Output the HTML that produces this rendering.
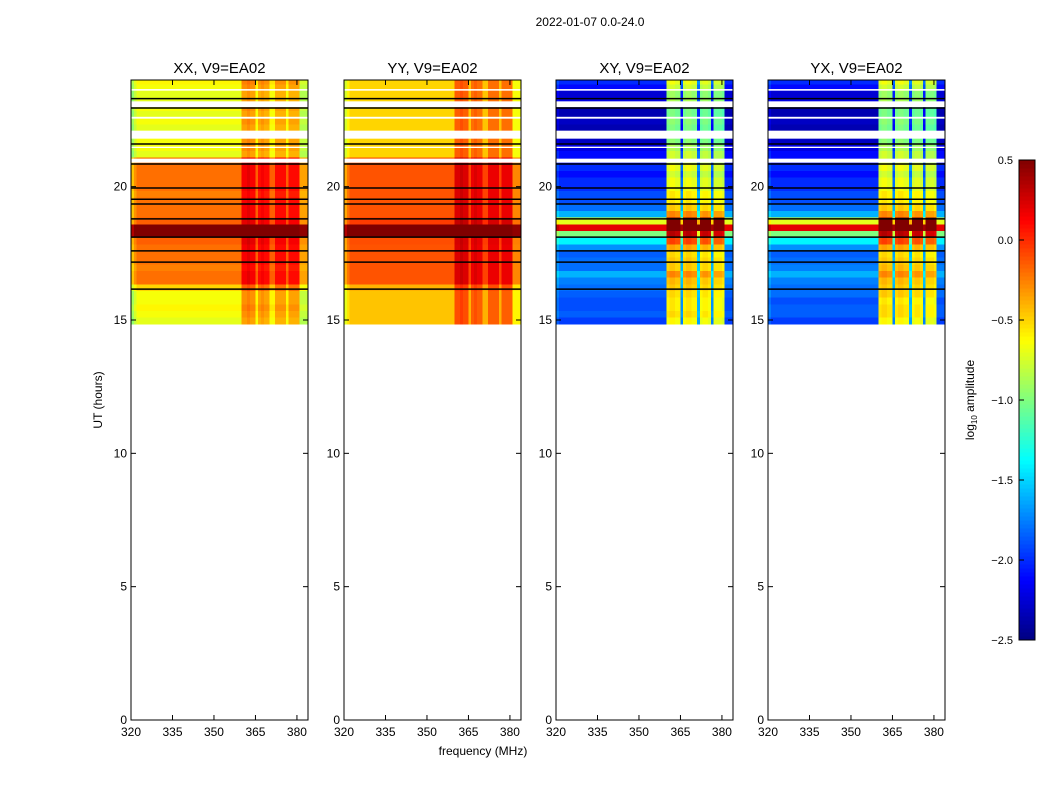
<!DOCTYPE html>
<html><head><meta charset="utf-8"><style>
body{margin:0;background:#fff;}
svg{display:block;font-family:"Liberation Sans","DejaVu Sans",sans-serif;}
</style></head><body>
<svg id="fig" width="1050" height="800" viewBox="0 0 1050 800">
<rect width="1050" height="800" fill="#fff"/>
<text x="590" y="26" font-size="12" text-anchor="middle">2022-01-07 0.0-24.0</text>
<text x="483" y="755" font-size="12" text-anchor="middle">frequency (MHz)</text>
<text transform="translate(102,400) rotate(-90)" font-size="12" text-anchor="middle">UT (hours)</text>
<text transform="translate(974,400) rotate(-90)" font-size="12" text-anchor="middle">log<tspan font-size="8" dy="3">10</tspan><tspan dy="-3"> amplitude</tspan></text>
<g id="panels"></g>
<g id="cbar"></g>
</svg>
<script>
// ---- data ----
const panelTitles = ["XX, V9=EA02","YY, V9=EA02","XY, V9=EA02","YX, V9=EA02"];
const rowStart = 14.85, rowStep = 0.25;
const xxRows = [-0.7,-0.65,-0.6,-0.65,-0.65,-0.5, -0.2,-0.2,-0.25,-0.2,-0.2,-0.2,-0.15, 0.6,0.6,-0.15, -0.2,-0.2,-0.2,-0.25,-0.2,-0.2,-0.2,-0.2,-0.2, -0.7,-0.65,-0.65,-0.7,-0.7,-0.65,-0.7,-0.65,-0.7,-0.7,-0.65,-0.6];
const yyRows = [-0.45,-0.45,-0.45,-0.45,-0.45,-0.4, -0.12,-0.12,-0.12,-0.12,-0.12,-0.12,-0.1, 0.6,0.6,-0.05, -0.12,-0.12,-0.12,-0.12,-0.12,-0.12,-0.12,-0.12,-0.12, -0.5,-0.5,-0.5,-0.5,-0.5,-0.5,-0.5,-0.5,-0.5,-0.5,-0.5,-0.5];
const xyRows = [-1.95,-1.85,-1.9,-1.9,-1.85,-1.8, -1.75,-1.6,-1.8,-1.8,-1.85,-1.7,-1.4, -1.0,0.2,-0.7, -1.6,-1.8,-1.9,-1.9,-2.0,-2.0,-2.1,-2.0,-2.1, -2.1,-2.2,-2.3,-2.35,-2.35,-2.3,-2.35,-2.35,-2.2,-2.25,-2.1,-2.0];
const yxRows = [-1.95,-1.85,-1.85,-1.9,-1.8,-1.8, -1.75,-1.6,-1.75,-1.8,-1.85,-1.7,-1.4, -1.0,0.2,-0.7, -1.6,-1.8,-1.9,-1.9,-2.0,-2.0,-2.1,-2.0,-2.1, -2.1,-2.2,-2.3,-2.35,-2.35,-2.3,-2.35,-2.35,-2.2,-2.25,-2.1,-2.0];
const chanStart = 320, chanStep = 1;
const parChan = [-0.25,-0.1,0,0,0,0,0,0,0,0, 0,0,0,0,0,0,0,0,0,0, 0,0,0,0,0,0,0,0,0,0, 0,0,0,0,0,0,0,0,0,0, 0.35,0.35,0.4,0.35,0.35,0.05,0.3,0.35,0.3,0.3, 0.05,0.05,0.3,0.3,0.3,0.3,0.05,0.3,0.3,0.3, 0.3,-0.15,-0.15,-0.15];
const crossChan = [0.1,0,0,0,0,0,0,0,0,0, 0,0,0,0,0,0,0,0,0,0, 0,0,0,0,0,0,0,0,0,0, 0,0,0,0,0,0,0,0,0,0, 1.3,1.35,1.35,1.3,1.3,0.2,1.3,1.35,1.35,1.3, 1.3,0.3,1.25,1.3,1.3,1.25,0.2,1.25,1.25,1.25, 1.2,0,0,0];
const gaps = [[22.98,23.2],[21.8,22.1],[20.9,21.05],[22.55,22.62],[23.6,23.66],[21.45,21.5]];
const blackLines = [23.3,22.95,21.6,20.85,19.95,19.53,19.35,18.79,18.11,17.59,17.17,16.16];
const xTicks = [320,335,350,365,380];
const yTicks = [0,5,10,15,20];
const cTicks = [0.5,0.0,-0.5,-1.0,-1.5,-2.0,-2.5];
const vmin = -2.5, vmax = 0.5;

// ---- geometry ----
const NS = "http://www.w3.org/2000/svg";
const panelX = [131,344,556,768], panelW = 177, axTop = 80, axBot = 720;
const fMin = 320, fMax = 384, tMin = 0, tMax = 24;
function jet(v){
  let t = (v - vmin)/(vmax - vmin); t = Math.max(0, Math.min(1, t));
  const c = x => Math.round(255*Math.max(0, Math.min(1, x)));
  return `rgb(${c(1.5-Math.abs(4*t-3))},${c(1.5-Math.abs(4*t-2))},${c(1.5-Math.abs(4*t-1))})`;
}
function el(tag, attrs, parent){ const e = document.createElementNS(NS, tag); for (const k in attrs) e.setAttribute(k, attrs[k]); parent.appendChild(e); return e; }
const allRows = [xxRows, yyRows, xyRows, yxRows];
const allChan = [parChan, parChan, crossChan, crossChan];
const root = document.getElementById("panels");
panelX.forEach((px, p) => {
  const xs = f => px + (f - fMin)/(fMax - fMin)*panelW;
  const ys = t => axBot - (t - tMin)/(tMax - tMin)*(axBot - axTop);
  const g = el("g", {}, root);
  
  
  const cells = el("g", {"shape-rendering":"crispEdges"}, g);
  
  
  allRows[p].forEach((rv, i) => {
    const t0 = rowStart + i*rowStep, t1 = Math.min(tMax, t0 + rowStep);
    allChan[p].forEach((cv, j) => {
      const f0 = chanStart + j*chanStep;
      const r = el("rect", {x: xs(f0).toFixed(2), y: ys(t1).toFixed(2), width: (xs(f0+chanStep)-xs(f0)+0.3).toFixed(2), height: (ys(t0)-ys(t1)+0.3).toFixed(2), fill: jet(rv + cv)}, cells);
      
      
    });
  });
  gaps.forEach(gp => {
    const r = el("rect", {x: px, y: ys(gp[1]), width: panelW, height: ys(gp[0]) - ys(gp[1]), fill: "#fff"}, g);
    
    
  });
  blackLines.forEach(h => {
    const l = el("line", {x1: px, x2: px+panelW, y1: ys(h), y2: ys(h), stroke: "#000", "stroke-width": 1.5}, g);
    
    
  });
  const fr = el("rect", {x: px, y: axTop, width: panelW, height: axBot-axTop, fill: "none", stroke: "#000", "stroke-width": 1}, g);
  
  
  const tt = el("text", {x: px + panelW/2, y: 73, "font-size": 15, "text-anchor": "middle"}, g);
  tt.textContent = panelTitles[p];
  
  
  xTicks.forEach(f => {
    const x = xs(f);
    el("line", {x1: x, x2: x, y1: axBot, y2: axBot-5, stroke: "#000"}, g);
    el("line", {x1: x, x2: x, y1: axTop, y2: axTop+5, stroke: "#000"}, g);
    const t = el("text", {x: x, y: axBot+16, "font-size": 12, "text-anchor": "middle"}, g);
    t.textContent = f;
    
    
  });
  yTicks.forEach(h => {
    const y = ys(h);
    el("line", {x1: px, x2: px+5, y1: y, y2: y, stroke: "#000"}, g);
    el("line", {x1: px+panelW, x2: px+panelW-5, y1: y, y2: y, stroke: "#000"}, g);
    const t = el("text", {x: px-4, y: y+4, "font-size": 12, "text-anchor": "end"}, g);
    t.textContent = h;
    
    
  });
});
// colorbar
const cb = document.getElementById("cbar");
const cbX = 1019, cbW = 16, cbTop = 160, cbBot = 640;
const cy = v => cbBot - (v - vmin)/(vmax - vmin)*(cbBot - cbTop);
for (let k = 0; k < 120; k++) {
  const v0 = vmin + k*(vmax-vmin)/120, v1 = v0 + (vmax-vmin)/120;
  const r = el("rect", {x: cbX, y: cy(v1), width: cbW, height: cy(v0)-cy(v1)+0.5, fill: jet((v0+v1)/2), "shape-rendering":"crispEdges"}, cb);
  
  
}
el("rect", {x: cbX, y: cbTop, width: cbW, height: cbBot-cbTop, fill: "none", stroke: "#000"}, cb);
cTicks.forEach(v => {
  const y = cy(v);
  el("line", {x1: cbX, x2: cbX+5, y1: y, y2: y, stroke: "#000"}, cb);
  const t = el("text", {x: 1013, y: y+4, "font-size": 11, "text-anchor": "end"}, cb);
  t.textContent = (v < 0 ? "\u2212" + Math.abs(v).toFixed(1) : v.toFixed(1));
  
  
});
</script>
</body></html>
